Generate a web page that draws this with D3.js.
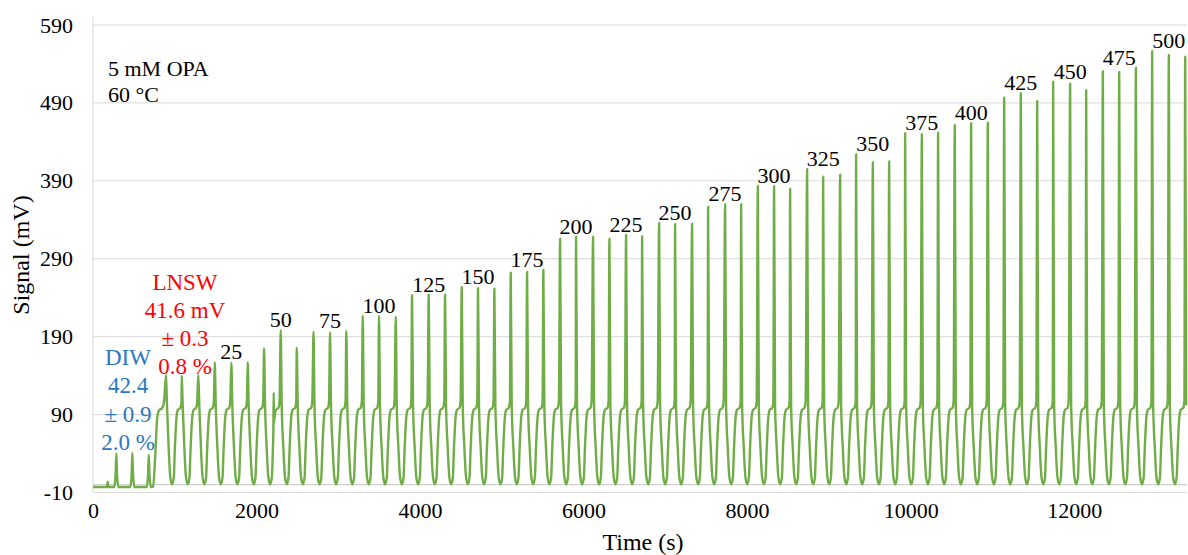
<!DOCTYPE html>
<html>
<head>
<meta charset="utf-8">
<script src="https://cdn.jsdelivr.net/npm/d3@7"></script>
<style>
  body { margin: 0; background: #fff; }
  svg { display: block; }
  text { font-family: "Liberation Serif", "Times New Roman", serif; }
</style>
</head>
<body>
<svg id="chart" width="1188" height="555"></svg>
<script>
// ---- Detector trace: 5 mM OPA, 60 °C ----

// DIW blank injections (s, mV apex)
const diwTimes = [285, 481, 682];
const diwHeights = [40.2, 40.6, 38.4];

// Injection apex times (s): LNSW triplicate, then standards 25 ... 500 in triplicate
const peakTimes = [
  893, 1085, 1288,  1489, 1692, 1892,  2092, 2296, 2492,  2697, 2899, 3098,
  3299, 3498, 3703,  3902, 4106, 4306,  4510, 4709, 4909,  5109, 5309, 5508,
  5713, 5908, 6116,  6316, 6520, 6716,  6924, 7119, 7327,  7523, 7731, 7927,
  8131, 8330, 8526,  8734, 8930, 9138,  9333, 9538, 9737,  9933, 10137, 10336,
  10540, 10740, 10944,  11144, 11348, 11548,  11743, 11951, 12147,
  12351, 12551, 12755,  12954, 13158, 13358
];

// Apex signal (mV) for each injection, same order as peakTimes
const peakHeights = [
  140.8, 140.0, 140.8,   // LNSW
  157.1, 156.6, 157.1,   // 25
  175.1, 198.2, 175.9,   // 50
  196.4, 195.6, 197.3,   // 75
  217.0, 216.6, 215.7,   // 100
  243.1, 243.9, 243.9,   // 125
  253.8, 252.5, 251.6,   // 150
  272.2, 273.0, 276.0,   // 175
  315.8, 318.4, 318.4,   // 200
  315.8, 320.6, 318.9,   // 225
  336.0, 334.7, 335.1,   // 250
  356.9, 360.0, 360.0,   // 275
  383.8, 383.5, 380.0,   // 300
  405.3, 395.4, 398.0,   // 325
  424.1, 413.9, 415.2,   // 350
  451.1, 450.2, 451.9,   // 375
  461.8, 464.0, 464.7,   // 400
  496.8, 502.5, 492.6,   // 425
  517.3, 514.8, 506.3,   // 450
  530.7, 529.8, 535.3,   // 475
  556.4, 551.6, 549.4    // 500
];

// Standard labels written over each triplicate (first triplicate is LNSW)
const standardLabels = ["25", "50", "75", "100", "125", "150", "175", "200", "225", "250",
  "275", "300", "325", "350", "375", "400", "425", "450", "475", "500"];

// One injection cycle after its apex: seconds after apex, signal (mV)
const cycleOffsets = [12, 32, 52, 74, 95, 108, 128, 145, 178, 190];
const cycleLevels  = [102, 48, 10, 0.5, 9, 45, 86, 96, 99, 108];

// Rise from baseline into the first LNSW injection (s, mV)
const leadTimes  = [735, 760, 785, 805, 850, 870];
const leadLevels = [-2.5, 35, 85, 95, 99, 108];

// Baseline before loading, with a small disturbance (s, mV)
const baseTimes  = [0, 170, 180, 190];
const baseLevels = [-3, -3, 4, -3];

// Short spike on the rising edge after the 7th injection (s, mV)
const glitchTimes  = [2206, 2210, 2214];
const glitchLevels = [70, 118, 80];

const yTicks = [-10, 90, 190, 290, 390, 490, 590];
const xTicks = [0, 2000, 4000, 6000, 8000, 10000, 12000];

// ---- Layout ----
const svg = d3.select("#chart");
const plot = { left: 93, right: 1187, top: 17.2, bottom: 492.5 };
const x = d3.scaleLinear().domain([0, 13380]).range([plot.left, plot.right]);
const y = d3.scaleLinear().domain([-10, 600]).range([plot.bottom, plot.top]);

// Horizontal gridlines
svg.append("g").selectAll("line").data(yTicks).join("line")
  .attr("x1", plot.left).attr("x2", plot.right)
  .attr("y1", d => y(d)).attr("y2", d => y(d))
  .attr("stroke", "#d9d9d9").attr("stroke-width", 1);

// Vertical axis line
svg.append("line")
  .attr("x1", plot.left).attr("x2", plot.left)
  .attr("y1", plot.top).attr("y2", plot.bottom)
  .attr("stroke", "#d9d9d9").attr("stroke-width", 1);

// Horizontal axis crosses at 0 mV
svg.append("line")
  .attr("x1", plot.left).attr("x2", plot.right)
  .attr("y1", y(0)).attr("y2", y(0))
  .attr("stroke", "#cfcfcf").attr("stroke-width", 1.2);

// Y tick labels (plain hyphen for negatives)
const yAxis = d3.axisLeft(y).tickValues(yTicks).tickFormat(d => String(d)).tickSize(0).tickPadding(20);
const gy = svg.append("g").attr("transform", `translate(${plot.left},0)`).call(yAxis);
gy.select(".domain").remove();
gy.selectAll("text").attr("font-size", 22).attr("fill", "#000");

// X tick labels, kept at the bottom edge
const xAxis = d3.axisBottom(x).tickValues(xTicks).tickFormat(d => String(d)).tickSize(0).tickPadding(10);
const gx = svg.append("g").attr("transform", `translate(0,${plot.bottom})`).call(xAxis);
gx.select(".domain").remove();
gx.selectAll("text").attr("font-size", 22).attr("fill", "#000");

// Axis titles
svg.append("text")
  .attr("x", (plot.left + plot.right) / 2 + 3).attr("y", 550)
  .attr("text-anchor", "middle").attr("font-size", 24).attr("fill", "#000")
  .text("Time (s)");
svg.append("text")
  .attr("transform", `translate(29,255) rotate(-90)`)
  .attr("text-anchor", "middle").attr("font-size", 24).attr("fill", "#000")
  .text("Signal (mV)");

// ---- Build the trace ----
const trace = [];
baseTimes.forEach((t, i) => trace.push([t, baseLevels[i]]));
diwTimes.forEach((t, i) => {
  trace.push([t - 26, -3], [t - 9, 12], [t, diwHeights[i]], [t + 9, 12], [t + 26, -3]);
});
leadTimes.forEach((t, i) => trace.push([t, leadLevels[i]]));
peakTimes.forEach((t, i) => {
  trace.push([t, peakHeights[i]]);
  const last = i === peakTimes.length - 1;
  cycleOffsets.forEach((o, j) => {
    if (!last || t + o <= 13372) trace.push([t + o, cycleLevels[j]]);
  });
});
glitchTimes.forEach((t, i) => trace.push([t, glitchLevels[i]]));
trace.sort((a, b) => a[0] - b[0]);

const line = d3.line()
  .x(d => x(d[0]))
  .y(d => y(d[1]))
  .curve(d3.curveMonotoneX);

svg.append("path")
  .datum(trace)
  .attr("d", line)
  .attr("fill", "none")
  .attr("stroke", "#70ad47")
  .attr("stroke-width", 2.4)
  .attr("stroke-linejoin", "round");

// ---- Standard labels over each triplicate ----
const groups = standardLabels.map((lab, g) => {
  const i0 = (g + 1) * 3;
  const top = d3.max(peakHeights.slice(i0, i0 + 3));
  return { lab, t: peakTimes[i0 + 1], top };
});
svg.append("g").selectAll("text").data(groups).join("text")
  .attr("x", d => x(d.t))
  .attr("y", d => y(d.top) - 3)
  .attr("text-anchor", "middle")
  .attr("font-size", 22)
  .attr("fill", "#000")
  .text(d => d.lab);

// ---- Annotations ----
svg.append("text").attr("x", 108).attr("y", 76).attr("font-size", 22).attr("fill", "#000").text("5 mM OPA");
svg.append("text").attr("x", 108).attr("y", 102).attr("font-size", 22).attr("fill", "#000").text("60 °C");

const diwLines = ["DIW", "42.4", "± 0.9", "2.0 %"];
svg.append("g").selectAll("text").data(diwLines).join("text")
  .attr("x", 128).attr("y", (d, i) => 365 + i * 28.3)
  .attr("text-anchor", "middle").attr("font-size", 23).attr("fill", "#2a78c2")
  .text(d => d);

const lnswLines = ["LNSW", "41.6 mV", "± 0.3", "0.8 %"];
svg.append("g").selectAll("text").data(lnswLines).join("text")
  .attr("x", 185).attr("y", (d, i) => 289.5 + i * 28.3)
  .attr("text-anchor", "middle").attr("font-size", 23).attr("fill", "#ff0000")
  .text(d => d);
</script>
</body>
</html>
